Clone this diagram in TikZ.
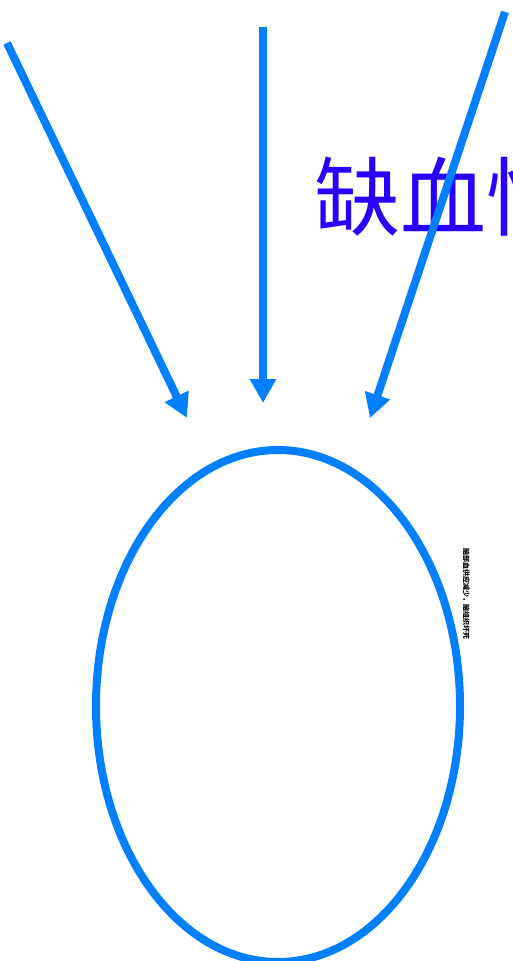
\documentclass[tikz,border=0pt]{standalone}
\usepackage{fontspec}
\usepackage{xcolor}
\usepackage{tikz}
\usetikzlibrary{positioning, arrows.meta, shapes.geometric}
\newfontfamily\cjk{Noto Sans CJK SC}
\definecolor{accBlue}{RGB}{0, 128, 255}
\definecolor{txtViolet}{RGB}{40, 0, 255}

\begin{document}
\begin{tikzpicture}[
    x=1pt, y=-1pt,
    bigarrow/.style={-{Triangle[length=24pt, width=25pt]}, line width=8pt, accBlue},
    focusring/.style={
        ellipse, draw=accBlue, line width=8pt,
        minimum width=364pt, minimum height=512pt, inner sep=0pt
    },
    titletext/.style={font=\cjk\fontsize{86}{96}\selectfont, text=txtViolet, inner sep=0pt, anchor=base west},
    sidenote/.style={font=\cjk\bfseries\fontsize{7}{8}\selectfont, inner sep=0pt, rotate=-90}
]
\useasboundingbox (0,0) rectangle (512,961);

\node[titletext] (title) at (314,229) {缺血性};

\coordinate (src1) at (7,43);
\coordinate (src2) at (263,27);
\coordinate (src3) at (505,12);
\coordinate (tip1) at (187,418);
\coordinate (tip2) at (263,403);
\coordinate (tip3) at (370,418);

\draw[bigarrow] (src1) -- (tip1);
\draw[bigarrow] (src2) -- (tip2);
\draw[bigarrow] (src3) -- (tip3);

\node[focusring] (focus) at (278,706) {};
\node[sidenote] (note) at (466,594) {脑部血供应减少，脑组织坏死};
\end{tikzpicture}
\end{document}
